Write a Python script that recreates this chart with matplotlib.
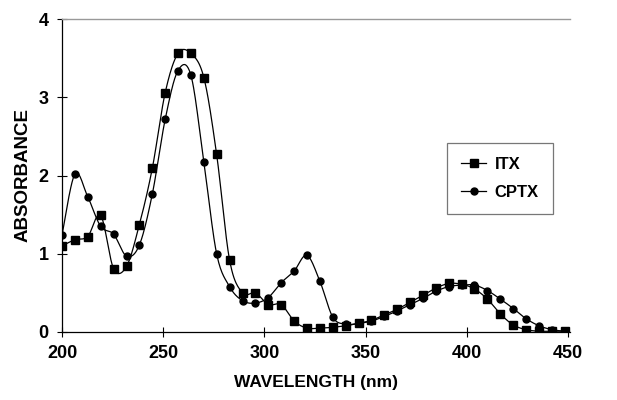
import numpy as np
import matplotlib
matplotlib.use('Agg')
import matplotlib.pyplot as plt
from matplotlib.lines import Line2D

wavelength = [200.0, 206.4, 212.7, 219.1, 225.5, 231.9, 238.2, 244.6, 251.0, 257.3,
              263.7, 270.1, 276.4, 282.8, 289.2, 295.6, 301.9, 308.3, 314.7, 321.0,
              327.4, 333.8, 340.1, 346.5, 352.9, 359.3, 365.6, 372.0, 378.4, 384.7,
              391.1, 397.5, 403.8, 410.2, 416.6, 423.0, 429.3, 435.7, 442.1, 448.4]
itx = [1.10, 1.18, 1.22, 1.49, 0.81, 0.84, 1.37, 2.09, 3.06, 3.56, 3.56, 3.25, 2.27, 0.92,
       0.50, 0.50, 0.35, 0.35, 0.14, 0.05, 0.05, 0.06, 0.08, 0.11, 0.15, 0.22, 0.29, 0.38,
       0.47, 0.56, 0.62, 0.61, 0.55, 0.42, 0.23, 0.09, 0.03, 0.01, 0.01, 0.01]
cptx = [1.24, 2.02, 1.73, 1.35, 1.25, 0.97, 1.11, 1.76, 2.72, 3.34, 3.28, 2.17, 1.00, 0.58,
        0.40, 0.37, 0.44, 0.63, 0.78, 0.98, 0.65, 0.19, 0.10, 0.11, 0.14, 0.20, 0.27, 0.35,
        0.43, 0.52, 0.58, 0.60, 0.60, 0.53, 0.42, 0.30, 0.17, 0.08, 0.03, 0.01]

x_ticks = [200, 250, 300, 350, 400, 450]
y_ticks = [0, 1, 2, 3, 4]


def smooth(x, y, sx, sy, n=24):
    """Excel-like smoothed line (cubic Bezier through the points)."""
    P = np.column_stack([np.asarray(x, float) * sx, np.asarray(y, float) * sy])
    E = np.vstack([P[0], P, P[-1]])
    out = []
    t = np.linspace(0, 1, n, endpoint=False)[:, None]
    for i in range(len(P) - 1):
        p0, p1, p2, p3 = E[i], E[i + 1], E[i + 2], E[i + 3]
        c1 = p1 + (p2 - p0) / 6.0
        c2 = p2 - (p3 - p1) / 6.0
        seg = (1 - t) ** 3 * p1 + 3 * (1 - t) ** 2 * t * c1 + 3 * (1 - t) * t ** 2 * c2 + t ** 3 * p2
        out.append(seg)
    out.append(P[-1:])
    pts = np.vstack(out)
    return pts[:, 0] / sx, pts[:, 1] / sy


plt.rcParams['font.family'] = ['Liberation Sans', 'DejaVu Sans']
plt.rcParams['font.weight'] = 'bold'

fig = plt.figure(figsize=(6.17, 4.0), dpi=100)
left_px, right_px, top_px, bot_px = 62, 570, 19, 332
ax = fig.add_axes([left_px / 617, (400 - bot_px) / 400,
                   (right_px - left_px) / 617, (bot_px - top_px) / 400])

sx, sy = 2.024, 78.25
for ydata, mk, ms in [(itx, 's', 6.4), (cptx, 'o', 5.0)]:
    xs, ys = smooth(wavelength, ydata, sx, sy)
    ax.plot(xs, ys, color='black', lw=0.9, zorder=2)
    ax.plot(wavelength, ydata, linestyle='none', marker=mk, ms=ms, color='black', zorder=3)

ax.set_xlim(200, 451)
ax.set_ylim(0, 4)
ax.set_xticks(x_ticks)
ax.set_yticks(y_ticks)
ax.tick_params(direction='inout', length=7, width=0.8, labelsize=13, pad=6)
for lab in ax.get_xticklabels() + ax.get_yticklabels():
    lab.set_fontweight('bold')

ax.spines['right'].set_visible(False)
ax.spines['top'].set_color('#999999')
ax.spines['top'].set_linewidth(1.0)
ax.spines['left'].set_linewidth(0.9)
ax.spines['bottom'].set_linewidth(0.9)

ax.set_xlabel('WAVELENGTH (nm)', fontsize=12.5, fontweight='bold', labelpad=9)
ax.set_ylabel('ABSORBANCE', fontsize=13.5, fontweight='bold', labelpad=5)

handles = [Line2D([], [], color='black', lw=0.9, marker='s', ms=6.4),
           Line2D([], [], color='black', lw=0.9, marker='o', ms=5.0)]
w_ax = right_px - left_px
h_ax = bot_px - top_px
leg = ax.legend(handles, ['ITX', 'CPTX'], loc='upper left',
                bbox_to_anchor=((447 - left_px) / w_ax, 1 - (143 - top_px) / h_ax),
                prop={'weight': 'bold', 'size': 12}, frameon=True, fancybox=False,
                handlelength=1.5, handletextpad=0.5, borderpad=0.85, labelspacing=0.75,
                borderaxespad=0)
leg.get_frame().set_edgecolor('#555555')
leg.get_frame().set_linewidth(0.9)

fig.savefig('out.png', dpi=100)
